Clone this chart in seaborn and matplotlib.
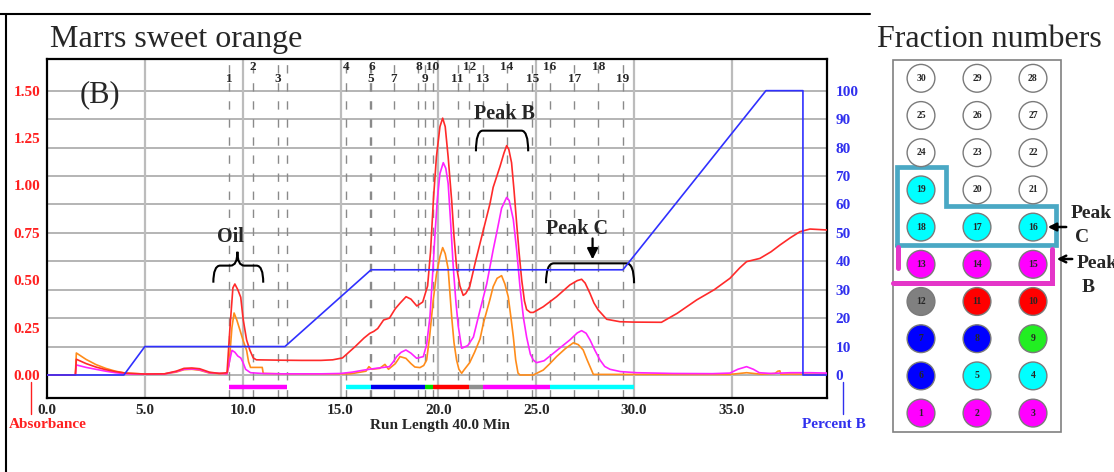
import numpy as np
import pandas as pd
import matplotlib
matplotlib.use("Agg")
import matplotlib.pyplot as plt
from matplotlib.path import Path
from matplotlib.patches import PathPatch, Rectangle, FancyArrowPatch
import seaborn as sns

# ---------------- chromatogram traces (time in min, absorbance) ----------------
red_t = [0, 1.45, 1.5, 2.0, 2.5, 3.0, 3.5, 4.0, 5.0, 6.0, 6.6, 7.0, 7.4, 7.8, 8.3, 8.8,
         9.2, 9.35, 9.5, 9.6, 9.75, 9.9, 10.03, 10.2, 10.37, 10.54, 10.7, 12.0, 13.0, 14.0,
         14.6, 15.1, 15.75, 16.2, 16.5, 16.7, 16.9, 17.2, 17.5, 17.8, 18.05, 18.35, 18.6,
         18.9, 19.2, 19.45, 19.6, 19.75, 19.9, 20.08, 20.22, 20.35, 20.5, 20.68, 20.8,
         20.93, 21.1, 21.27, 21.4, 21.6, 21.9, 22.13, 22.3, 22.64, 22.8, 23.15, 23.35,
         23.49, 23.6, 23.74, 23.87, 24.0, 24.13, 24.26, 24.4, 24.51, 24.7, 24.85, 25.36,
         26.04, 26.72, 27.1, 27.32, 27.5, 27.75, 27.95, 28.17, 28.6, 29.28, 30.0, 31.4,
         32.2, 33.2, 34.1, 34.9, 35.4, 35.75, 36.43, 37.0, 37.46, 38.0, 38.48, 38.99, 39.86]
red_a = [0.0, 0.0, 0.083, 0.06, 0.042, 0.028, 0.018, 0.01, 0.005, 0.006, 0.02, 0.035,
         0.037, 0.033, 0.015, 0.008, 0.012, 0.25, 0.46, 0.48, 0.45, 0.41, 0.29, 0.185,
         0.13, 0.09, 0.08, 0.078, 0.077, 0.077, 0.08, 0.09, 0.15, 0.195, 0.22, 0.23, 0.245,
         0.29, 0.30, 0.35, 0.38, 0.413, 0.40, 0.364, 0.385, 0.47, 0.65, 0.93, 1.15, 1.31,
         1.355, 1.31, 1.15, 0.92, 0.73, 0.57, 0.47, 0.42, 0.43, 0.466, 0.60, 0.695, 0.765,
         0.905, 0.99, 1.10, 1.17, 1.21, 1.19, 1.12, 0.97, 0.80, 0.64, 0.50, 0.39, 0.345,
         0.33, 0.33, 0.36, 0.413, 0.475, 0.498, 0.505, 0.485, 0.43, 0.38, 0.343, 0.294,
         0.281, 0.279, 0.278, 0.325, 0.396, 0.45, 0.51, 0.565, 0.598, 0.615, 0.65, 0.686,
         0.725, 0.756, 0.77, 0.765]

magenta_t = [0, 1.45, 1.5, 2.0, 2.5, 3.0, 3.5, 4.0, 5.0, 6.0, 6.6, 7.0, 7.4, 7.8, 8.3,
             9.2, 9.3, 9.45, 9.6, 9.75, 9.9, 10.0, 10.15, 10.4, 11.0, 12.0, 13.0, 14.0,
             15.0, 15.6, 16.2, 16.8, 17.5, 17.7, 17.87, 18.1, 18.34, 18.6, 18.89, 19.23,
             19.4, 19.57, 19.7, 19.83, 19.95, 20.08, 20.25, 20.38, 20.5, 20.63, 20.76,
             20.9, 21.02, 21.19, 21.5, 21.79, 22.1, 22.47, 22.8, 23.0, 23.23, 23.49, 23.62,
             23.83, 24.0, 24.17, 24.35, 24.51, 24.7, 24.85, 25.02, 25.4, 25.87, 26.3,
             26.72, 27.1, 27.32, 27.55, 27.75, 28.0, 28.26, 28.5, 28.77, 29.3, 30.13, 32.0,
             34.0, 34.9, 35.3, 35.75, 36.1, 36.4, 37.0, 38.0, 39.0, 39.86]
magenta_a = [0, 0, 0.053, 0.04, 0.03, 0.02, 0.012, 0.006, 0.004, 0.005, 0.018, 0.03,
             0.032, 0.028, 0.012, 0.006, 0.06, 0.13, 0.12, 0.10, 0.09, 0.07, 0.03, 0.012,
             0.008, 0.006, 0.006, 0.006, 0.008, 0.015, 0.026, 0.035, 0.044, 0.07, 0.097,
             0.12, 0.132, 0.115, 0.088, 0.097, 0.16, 0.307, 0.52, 0.747, 0.93, 1.063, 1.12,
             1.09, 1.01, 0.80, 0.571, 0.38, 0.255, 0.141, 0.155, 0.20, 0.33, 0.48, 0.66,
             0.76, 0.88, 0.937, 0.92, 0.82, 0.66, 0.466, 0.30, 0.20, 0.11, 0.079, 0.065,
             0.075, 0.114, 0.15, 0.185, 0.222, 0.234, 0.22, 0.185, 0.13, 0.079, 0.045, 0.03,
             0.018, 0.012, 0.008, 0.007, 0.01, 0.03, 0.044, 0.03, 0.012, 0.008, 0.012,
             0.012, 0.01]

orange_t = [0, 1.45, 1.5, 2.0, 2.5, 3.0, 3.5, 4.0, 5.0, 6.0, 6.6, 7.0, 7.4, 7.8, 8.3,
            9.2, 9.3, 9.45, 9.56, 9.7, 9.86, 10.03, 10.2, 10.3, 10.4, 11.0, 11.05, 12.0,
            14.0, 15.5, 16.3, 16.45, 16.6, 17.0, 17.27, 17.45, 17.8, 18.04, 18.34, 18.6,
            18.8, 19.06, 19.25, 19.4, 19.55, 19.74, 19.9, 20.08, 20.22, 20.35, 20.5, 20.68,
            20.8, 20.93, 21.05, 21.19, 21.3, 21.6, 21.85, 22.13, 22.3, 22.64, 22.8, 23.0,
            23.23, 23.4, 23.57, 23.7, 23.83, 23.95, 24.07, 24.17, 24.85, 25.36, 25.7, 26.04,
            26.5, 26.9, 27.15, 27.4, 27.6, 27.75, 27.92, 30.0, 34.9, 35.75, 36.5, 37.2,
            37.35, 37.45, 37.5, 38.0, 39.86]
orange_a = [0, 0, 0.116, 0.082, 0.055, 0.035, 0.02, 0.01, 0.005, 0.006, 0.015, 0.028,
            0.03, 0.025, 0.01, 0.006, 0.05, 0.25, 0.327, 0.29, 0.237, 0.18, 0.13, 0.07,
            0.04, 0.04, 0.008, 0.006, 0.005, 0.006, 0.02, 0.044, 0.03, 0.035, 0.056, 0.03,
            0.06, 0.097, 0.088, 0.06, 0.042, 0.039, 0.05, 0.079, 0.20, 0.396, 0.53, 0.624,
            0.672, 0.64, 0.56, 0.307, 0.17, 0.079, 0.03, 0.009, 0.025, 0.065, 0.12, 0.19,
            0.273, 0.40, 0.466, 0.51, 0.524, 0.48, 0.413, 0.31, 0.202, 0.08, 0.01, 0.0,
            0.0, 0.026, 0.06, 0.097, 0.14, 0.17, 0.16, 0.132, 0.08, 0.044, 0.003, 0.003,
            0.003, 0.012, 0.004, 0.008, 0.02, 0.022, 0.004, 0.005, 0.004]

# solvent gradient (% B)
grad_t = [0, 3.93, 5.0, 12.16, 16.56, 29.43, 36.74, 38.63, 38.63, 39.86]
grad_b = [0, 0, 10, 10, 37, 37, 100, 100, 0, 0]

# fraction collection: tube numbers, start / end times (min)
frac_num = list(range(1, 20))
frac_start = [9.30, 10.53, 11.80, 15.28, 16.52, 16.58, 17.73, 18.98, 19.33, 19.72,
              20.98, 21.58, 22.28, 23.50, 24.80, 25.70, 26.95, 28.18, 29.43]
frac_end = [10.53, 11.80, 12.28, 16.52, 16.58, 17.73, 18.98, 19.33, 19.72, 20.98,
            21.58, 22.28, 23.50, 24.80, 25.70, 26.95, 28.18, 29.43, 30.00]
frac_color = ["magenta"] * 3 + ["cyan"] * 2 + ["blue"] * 3 + ["green"] + ["red"] * 2 + \
             ["gray"] + ["magenta"] * 3 + ["cyan"] * 4

# rack layout (top row first)
rack_rows = [[30, 29, 28], [25, 26, 27], [24, 23, 22], [19, 20, 21], [18, 17, 16],
             [13, 14, 15], [12, 11, 10], [7, 8, 9], [6, 5, 4], [1, 2, 3]]

# axis ticks
abs_ticks = [0.0, 0.25, 0.5, 0.75, 1.0, 1.25, 1.5]
pct_ticks = list(range(0, 101, 10))
time_ticks = [0, 5, 10, 15, 20, 25, 30, 35]

# ---------------- style ----------------
sns.set_style("white")
plt.rcParams['font.family'] = ['Liberation Serif', 'DejaVu Serif']

bar_colors = {"magenta": "#ff00ff", "cyan": "#00ffff", "blue": "#0000ee",
              "green": "#00dd00", "red": "#ff0000", "gray": "#909090"}
tube_colors = {"magenta": "#ff00ff", "cyan": "#00ffff", "blue": "#0000ff",
               "green": "#22ee22", "red": "#ff0000", "gray": "#808080"}
trace_colors = {"red": "#ff2a2a", "magenta": "#ff22ff", "orange": "#ff8c1a"}

W, H = 1114, 472
fig = plt.figure(figsize=(W / 100, H / 100), dpi=100)


def fx(px):
    return px / W


def fy(py):
    return 1 - py / H


# outer frame around the chromatogram panel
fig.add_artist(plt.Line2D([fx(0), fx(870)], [fy(14), fy(14)], color="black", lw=1.5))
fig.add_artist(plt.Line2D([fx(5.5), fx(5.5)], [fy(14), fy(472)], color="black", lw=1.5))

x0, x1, y0, y1 = 47, 827, 59, 398
ax = fig.add_axes([fx(x0), fy(y1), fx(x1) - fx(x0), fy(y0) - fy(y1)])
ylo, yhi = -0.1214, 1.667
ax.set_xlim(0, 39.86)
ax.set_ylim(ylo, yhi)

# grid
for p in pct_ticks:
    ax.axhline(p * 1.5 / 100, color="#a8a8a8", lw=1.2, zorder=0)
for t in time_ticks[1:]:
    ax.axvline(t, color="#bcbcbc", lw=1.6, zorder=0)
for t in sorted(set(frac_start + [frac_end[2]])):
    ax.axvline(t, color="#8a8a8a", lw=1.0, ls=(0, (6, 7)), zorder=0.5)

# traces
frames = []
for name, tt, aa in [("orange", orange_t, orange_a), ("magenta", magenta_t, magenta_a),
                     ("red", red_t, red_a)]:
    frames.append(pd.DataFrame({"time": tt, "absorbance": aa, "trace": name}))
df = pd.concat(frames, ignore_index=True)
sns.lineplot(data=df, x="time", y="absorbance", hue="trace", palette=trace_colors,
             hue_order=["orange", "magenta", "red"], estimator=None, sort=False,
             legend=False, lw=1.2, ax=ax, zorder=3)

# fraction bar under baseline
ax.hlines([-0.062] * len(frac_num), frac_start, frac_end,
          colors=[bar_colors[c] for c in frac_color], lw=3.2, zorder=2)

# fraction numbers along the top
for n, s in zip(frac_num, frac_start):
    yy = 1.624 if n % 2 == 0 else 1.561
    ax.text(s, yy, str(n), ha="center", va="center", fontsize=9.5,
            fontweight="bold", zorder=4)

# axes styling
for sp in ax.spines.values():
    sp.set_color("black")
    sp.set_linewidth(1.6)
ax.set_xticks(time_ticks)
ax.set_xticklabels([f"{t:.1f}" for t in time_ticks], fontsize=11, fontweight="bold")
ax.set_yticks(abs_ticks)
ax.set_yticklabels([f"{v:.2f}" for v in abs_ticks], fontsize=11, fontweight="bold",
                   color="#ff2020")
ax.tick_params(axis="both", length=0)
ax.tick_params(axis="x", pad=4)
ax.tick_params(axis="y", pad=5)
ax.set_xlabel("")
ax.set_ylabel("")

# gradient on the right axis
ax2 = ax.twinx()
ax2.set_ylim(ylo / 1.5 * 100, yhi / 1.5 * 100)
gdf = pd.DataFrame({"time": grad_t, "pctB": grad_b})
sns.lineplot(data=gdf, x="time", y="pctB", estimator=None, sort=False, color="#3030ff",
             lw=1.2, ax=ax2)
ax2.set_yticks(pct_ticks)
ax2.set_yticklabels([str(p) for p in pct_ticks], fontsize=11, fontweight="bold",
                    color="#3030ee")
ax2.tick_params(axis="y", length=0, pad=6)
ax2.set_ylabel("")
for sp in ax2.spines.values():
    sp.set_visible(False)


# braces / annotations
def bracket(axis, xa, xb, y_tip, y_bar, r=0.3, cusp=None, lw=1.5):
    verts = [(xa, y_tip), (xa, y_bar), (xa + r, y_bar)]
    codes = [Path.MOVETO, Path.CURVE3, Path.CURVE3]
    if cusp is not None:
        xm, ym = cusp
        verts += [(xm - r, y_bar), (xm, y_bar), (xm, ym), (xm, y_bar), (xm + r, y_bar)]
        codes += [Path.LINETO, Path.CURVE3, Path.CURVE3, Path.CURVE3, Path.CURVE3]
    verts += [(xb - r, y_bar), (xb, y_bar), (xb, y_tip)]
    codes += [Path.LINETO, Path.CURVE3, Path.CURVE3]
    axis.add_patch(PathPatch(Path(verts, codes), fill=False, lw=lw, color="black",
                             zorder=5))


bracket(ax, 8.5, 11.05, 0.487, 0.577, r=0.35, cusp=(9.73, 0.65))
ax.text(9.35, 0.73, "Oil", ha="center", va="center", fontsize=14.5, fontweight="bold")
bracket(ax, 21.92, 24.59, 1.18, 1.289, r=0.35)
ax.text(23.37, 1.377, "Peak B", ha="center", va="center", fontsize=14.5,
        fontweight="bold")
bracket(ax, 25.5, 30.0, 0.484, 0.589, r=0.4)
ax.text(27.07, 0.768, "Peak C", ha="center", va="center", fontsize=14.5,
        fontweight="bold")
ax.annotate("", xy=(27.88, 0.595), xytext=(27.88, 0.735),
            arrowprops=dict(arrowstyle="-|>", lw=1.6, color="black", mutation_scale=16))
ax.text(2.7, 1.477, "(B)", ha="center", va="center", fontsize=22)

# titles and axis captions
fig.text(fx(50), fy(47), "Marrs sweet orange", fontsize=23, ha="left", va="baseline")
fig.text(fx(877), fy(47), "Fraction numbers", fontsize=23, ha="left", va="baseline")
fig.text(fx(48), fy(424), "Absorbance", fontsize=11, fontweight="bold", color="#ff2020",
         ha="center", va="center")
fig.text(fx(440), fy(425), "Run Length 40.0 Min", fontsize=11, fontweight="bold",
         ha="center", va="center")
fig.text(fx(834), fy(424), "Percent B", fontsize=11, fontweight="bold", color="#3030ee",
         ha="center", va="center")
fig.add_artist(plt.Line2D([fx(31), fx(31)], [fy(382), fy(414)], color="#ff2020", lw=1))
fig.add_artist(plt.Line2D([fx(843), fx(843)], [fy(382), fy(414)], color="#3030ee", lw=1))

# ---------------- fraction rack ----------------
px0, px1, py0, py1 = 893, 1061, 60, 432
pax = fig.add_axes([fx(px0), fy(py1), fx(px1) - fx(px0), fy(py0) - fy(py1)])
pax.set_xlim(px0, px1)
pax.set_ylim(py1, py0)
pax.axis("off")
pax.add_patch(Rectangle((px0, py0), px1 - px0, py1 - py0, fill=False, ec="#808080",
                        lw=1.2, clip_on=False))

col_x0, col_dx = 921, 56
row_y0, row_dy = 78.3, 37.2
recs = []
for ri, row in enumerate(rack_rows):
    for ci, n in enumerate(row):
        if n <= len(frac_color):
            col = tube_colors[frac_color[n - 1]]
        else:
            col = "white"
        recs.append({"x": col_x0 + ci * col_dx, "y": row_y0 + ri * row_dy,
                     "tube": n, "fill": col})
rack = pd.DataFrame(recs)
sns.scatterplot(data=rack, x="x", y="y", c=rack["fill"].tolist(), s=400,
                edgecolor="#7a7a7a", linewidth=1.0, ax=pax, legend=False, zorder=2)
for _, r in rack.iterrows():
    pax.text(r["x"], r["y"], str(r["tube"]), ha="center", va="center", fontsize=7,
             fontweight="bold", zorder=3)
pax.set_xlabel("")
pax.set_ylabel("")

# peak outlines on the rack
teal = "#4aa8c4"
pax.plot([897, 897, 946, 946, 1056, 1056, 897], [246, 167, 167, 206, 206, 245, 245],
         color=teal, lw=3.4, solid_joinstyle="miter", clip_on=False, zorder=1)
pink = "#e436c8"
pax.plot([898, 898], [247, 268], color=pink, lw=3.6, clip_on=False, zorder=1)
pax.plot([893, 1052, 1052], [283, 283, 249], color=pink, lw=3.6, clip_on=False,
         solid_joinstyle="miter", zorder=1)

fig.text(fx(1071), fy(213), "Peak", fontsize=14, fontweight="bold", ha="left",
         va="center")
fig.text(fx(1075), fy(238), "C", fontsize=14, fontweight="bold", ha="left", va="center")
fig.text(fx(1077), fy(263), "Peak", fontsize=14, fontweight="bold", ha="left",
         va="center")
fig.text(fx(1082), fy(287), "B", fontsize=14, fontweight="bold", ha="left", va="center")
fig.add_artist(FancyArrowPatch(
    (fx(1069), fy(227)), (fx(1045), fy(227)), transform=fig.transFigure,
    arrowstyle="-|>", mutation_scale=12, lw=1.8, color="black"))
fig.add_artist(FancyArrowPatch(
    (fx(1075), fy(259)), (fx(1054), fy(259)), transform=fig.transFigure,
    arrowstyle="->", mutation_scale=12, lw=1.8, color="black"))

fig.savefig("out.png", dpi=100)
